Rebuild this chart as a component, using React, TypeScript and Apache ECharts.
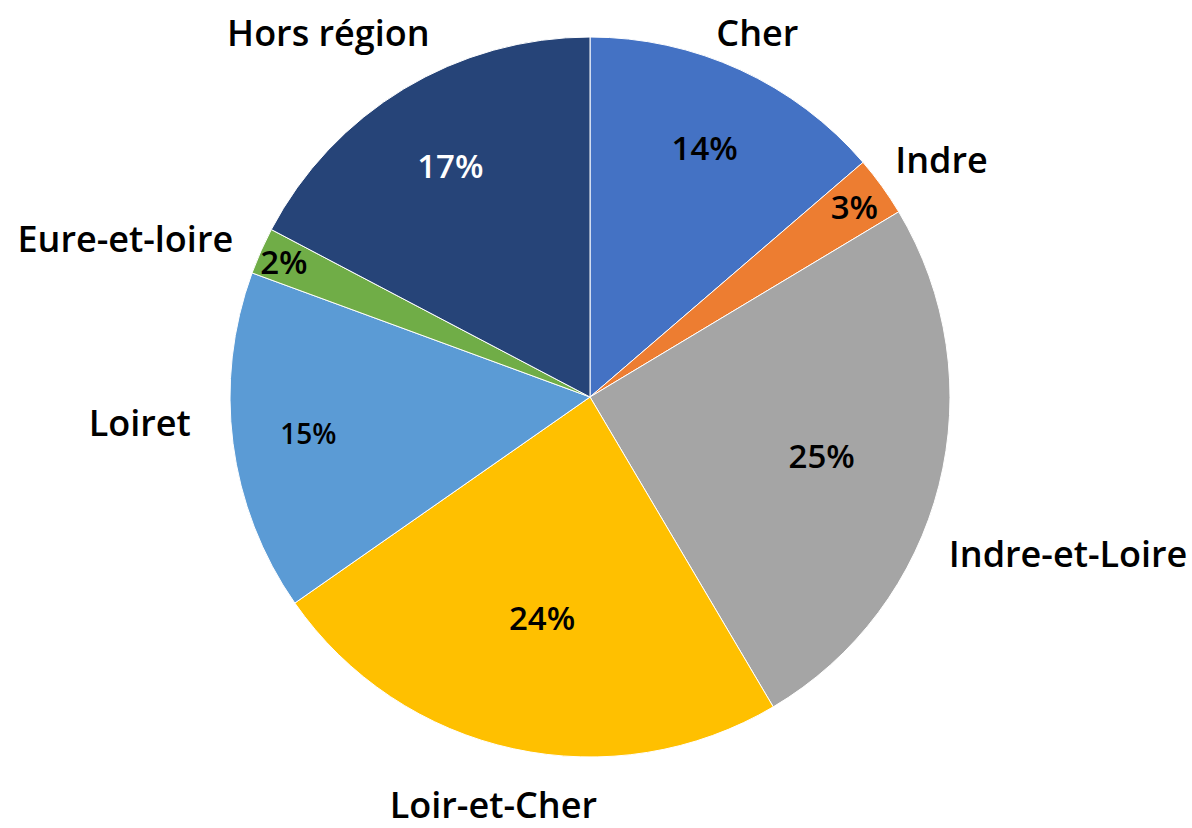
import React, { useEffect, useRef } from "react";
import * as echarts from "echarts";

// ---- data ----
const categories = ["Cher", "Indre", "Indre-et-Loire", "Loir-et-Cher", "Loiret", "Eure-et-loire", "Hors région"];
const values = [13.7, 2.7, 25.1, 23.8, 15.3, 2.1, 17.3];

// ---- styles ----
const colors = ["#4472C4", "#ED7D31", "#A5A5A5", "#FFC000", "#5B9BD5", "#70AD47", "#264478"];
const pctColors = ["#000", "#000", "#000", "#000", "#000", "#000", "#fff"];
const pctSizes = [33, 33, 33, 33, 28, 33, 33];
const CX = 590;
const CY = 397;
const R = 360;
// outer name label placement: [angle offset (deg), distance from centre (px)]
const namePlace: [number, number][] = [
  [0, 401],
  [1.8, 424],
  [3.9, 503],
  [1.1, 419],
  [4.1, 451],
  [-5.1, 491],
  [-4.5, 449],
];
// inner percent label distance from centre (px)
const pctDist = [275, 326, 239, 226, 284, 335, 270];

const FONT = "'Open Sans', 'Noto Sans', sans-serif";

function midAngles(): number[] {
  const total = values.reduce((a, b) => a + b, 0);
  let cum = 0;
  return values.map((v) => {
    const m = ((cum + v / 2) / total) * 360;
    cum += v;
    return m;
  });
}

export default function App() {
  const ref = useRef<HTMLDivElement>(null);
  useEffect(() => {
    if (!ref.current) return;
    const chart = echarts.init(ref.current, null, { renderer: "svg" });
    const mids = midAngles();
    const polar = (deg: number, d: number) => {
      const a = (deg * Math.PI) / 180;
      return { x: CX + d * Math.sin(a), y: CY - d * Math.cos(a) };
    };
    chart.setOption({
      animation: false,
      backgroundColor: "#ffffff",
      series: [
        {
          type: "pie",
          center: [CX, CY],
          radius: [0, R],
          startAngle: 90,
          clockwise: true,
          silent: true,
          itemStyle: { borderColor: "#ffffff", borderWidth: 1 },
          label: {
            show: true,
            position: "outside",
            formatter: "{b}",
            fontFamily: FONT,
            fontWeight: 600,
            fontSize: 36,
            color: "#000",
            overflow: "none",
            edgeDistance: 0,
          },
          labelLine: { show: false },
          labelLayout: (p: any) => {
            const i = p.dataIndex;
            const pt = polar(mids[i] + namePlace[i][0], namePlace[i][1]);
            return { x: pt.x, y: pt.y, align: "center", verticalAlign: "middle", width: 400 };
          },
          data: categories.map((c, i) => ({ name: c, value: values[i], itemStyle: { color: colors[i] } })),
        },
        {
          type: "pie",
          center: [CX, CY],
          radius: [0, R],
          startAngle: 90,
          clockwise: true,
          silent: true,
          itemStyle: { color: "rgba(0,0,0,0)" },
          label: {
            show: true,
            position: "inside",
            formatter: (p: any) => Math.round(p.value) + "%",
            fontFamily: FONT,
            fontWeight: 600,
          },
          labelLayout: (p: any) => {
            const i = p.dataIndex;
            const pt = polar(mids[i], pctDist[i]);
            return { x: pt.x, y: pt.y, align: "center", verticalAlign: "middle" };
          },
          data: categories.map((c, i) => ({
            name: c,
            value: values[i],
            label: { color: pctColors[i], fontSize: pctSizes[i] },
          })),
        },
      ],
    });
    return () => chart.dispose();
  }, []);
  return (
    <div
      ref={ref}
      style={{ position: "fixed", left: 0, top: 0, width: 1192, height: 828, background: "#fff" }}
    />
  );
}
